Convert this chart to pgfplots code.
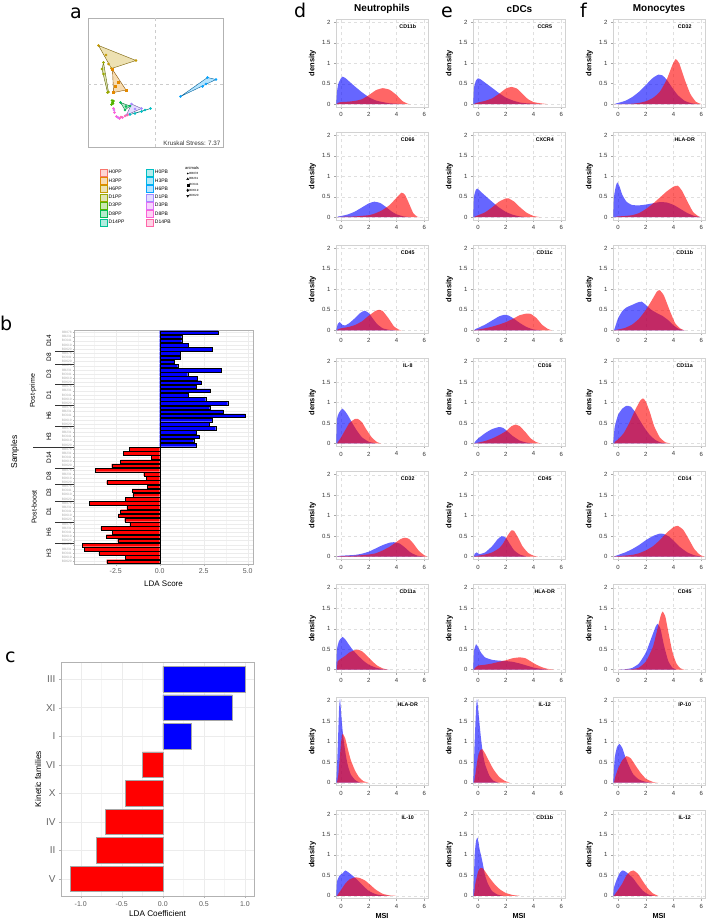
\documentclass[border=0pt]{standalone}
\usepackage{fontspec}
\setmainfont{Liberation Sans}
\newfontfamily\letterfont{DejaVu Sans}
\usepackage{pgfplots}
\pgfplotsset{compat=1.18}

\definecolor{c1}{HTML}{F8766D}
\definecolor{c2}{HTML}{E38900}
\definecolor{c3}{HTML}{C49A00}
\definecolor{c4}{HTML}{99A800}
\definecolor{c5}{HTML}{53B400}
\definecolor{c6}{HTML}{00BC56}
\definecolor{c7}{HTML}{00C094}
\definecolor{c8}{HTML}{00BFC4}
\definecolor{c9}{HTML}{00B6EB}
\definecolor{c10}{HTML}{06A4FF}
\definecolor{c11}{HTML}{A58AFF}
\definecolor{c12}{HTML}{DF70F8}
\definecolor{c13}{HTML}{FB61D7}
\definecolor{c14}{HTML}{FF66A8}

\pgfplotsset{
  dens/.style={
    scale only axis, width=92pt, height=88pt, anchor=north west,
    xmin=-0.37, xmax=6.26, ymin=-0.07, ymax=2.08,
    xtick={0,2,4,6}, ytick={0,0.5,1,1.5,2},
    tick align=outside, xtick pos=bottom, ytick pos=left,
    major tick length=2pt, tick style={gray!70, line width=0.4pt},
    axis line style={gray!35, line width=0.5pt},
    grid=major, grid style={dashed, gray!25, line width=0.3pt},
    tick label style={font=\fontsize{6}{7}\selectfont, text=black!80},
    /pgf/number format/assume math mode=true,
    ylabel={density},
    every axis y label/.style={at={(axis description cs:0,0.5)}, xshift=-16.6pt, rotate=90, anchor=south, font=\bfseries\fontsize{7.5}{8}\selectfont},
    every axis x label/.style={at={(axis description cs:0.5,0)}, yshift=-19.5pt, anchor=base, inner sep=0pt, font=\bfseries\fontsize{7.3}{8}\selectfont},
  },
}

\newcommand{\dens}[6]{%
\begin{axis}[dens, at={(#1pt,#2pt)}, #6]
\addplot[draw=none, fill=blue, fill opacity=0.6, smooth, tension=0.3] coordinates {#4} \closedcycle;
\addplot[draw=none, fill=red, fill opacity=0.6, smooth, tension=0.3] coordinates {#5} \closedcycle;
\node[font=\bfseries\fontsize{5.3}{6}\selectfont] at (axis cs:4.8,1.9) {#3};
\end{axis}}

\begin{document}
\begin{tikzpicture}
\useasboundingbox (0pt,0pt) rectangle (706pt,-919pt);

% ---------- panel letters
\node[anchor=base west, inner sep=0, font=\letterfont\fontsize{19}{20}\selectfont] at (70pt,-18pt) {a};
\node[anchor=base west, inner sep=0, font=\letterfont\fontsize{19}{20}\selectfont] at (0pt,-330pt) {b};
\node[anchor=base west, inner sep=0, font=\letterfont\fontsize{19}{20}\selectfont] at (5pt,-662pt) {c};
\node[anchor=base west, inner sep=0, font=\letterfont\fontsize{19}{20}\selectfont] at (294pt,-17pt) {d};
\node[anchor=base west, inner sep=0, font=\letterfont\fontsize{19}{20}\selectfont] at (441pt,-17pt) {e};
\node[anchor=base west, inner sep=0, font=\letterfont\fontsize{19}{20}\selectfont] at (580pt,-17pt) {f};

% ---------- panel a : MDS
\begin{axis}[at={(88pt,-18pt)}, anchor=north west, scale only axis, width=135pt, height=129pt,
  xmin=-1.34, xmax=1.36, ymin=-1.26, ymax=1.32,
  xtick=\empty, ytick=\empty,
  extra x ticks={0}, extra y ticks={0}, extra x tick labels={}, extra y tick labels={},
  extra tick style={grid=major, major grid style={dashed, gray!40, line width=0.4pt}, major tick length=0pt},
  axis line style={gray!60, line width=0.6pt},
  legend columns=2,
  legend image code/.code={\draw[line width=0.5pt,#1] (0pt,-3.5pt) rectangle (7pt,3.5pt);},
  legend style={at={(axis description cs:0.0889,-0.1667)}, anchor=north west, draw=none, fill=none,
    inner sep=0pt, row sep=0.8pt, font=\fontsize{5}{5.5}\selectfont,
    nodes={inner sep=1pt, text height=3.6pt, text depth=1pt, text width=36.7pt}, cells={anchor=west}},
  clip=false]
\addlegendimage{fill=c1!30, draw=c1}\addlegendentry{H0PP}
\addlegendimage{fill=c8!30, draw=c8}\addlegendentry{H0PB}
\addlegendimage{fill=c2!30, draw=c2}\addlegendentry{H3PP}
\addlegendimage{fill=c9!30, draw=c9}\addlegendentry{H3PB}
\addlegendimage{fill=c3!30, draw=c3}\addlegendentry{H6PP}
\addlegendimage{fill=c10!30, draw=c10}\addlegendentry{H6PB}
\addlegendimage{fill=c4!30, draw=c4}\addlegendentry{D1PP}
\addlegendimage{fill=c11!30, draw=c11}\addlegendentry{D1PB}
\addlegendimage{fill=c5!30, draw=c5}\addlegendentry{D3PP}
\addlegendimage{fill=c12!30, draw=c12}\addlegendentry{D3PB}
\addlegendimage{fill=c6!30, draw=c6}\addlegendentry{D8PP}
\addlegendimage{fill=c13!30, draw=c13}\addlegendentry{D8PB}
\addlegendimage{fill=c7!30, draw=c7}\addlegendentry{D14PP}
\addlegendimage{fill=c14!30, draw=c14}\addlegendentry{D14PB}
% hulls
\addplot[forget plot, fill=c3!30, draw=c3!60!black, line width=0.4pt] coordinates {(-1.13,0.77) (-0.38,0.47) (-0.87,0.31)} -- cycle;
\addplot[forget plot, fill=c2!30, draw=c2!60!black, line width=0.4pt] coordinates {(-0.85,0.29) (-0.58,-0.12) (-0.83,-0.17)} -- cycle;
\addplot[forget plot, fill=c4!30, draw=c4!60!black, line width=0.4pt] coordinates {(-1.03,0.43) (-0.93,-0.16) (-0.95,-0.17) (-1.06,0.30)} -- cycle;
\addplot[forget plot, fill=c10!30, draw=c10!60!black, line width=0.4pt] coordinates {(0.51,-0.25) (1.05,0.13) (1.22,0.09)} -- cycle;
\addplot[forget plot, fill=c6!30, draw=c6!60!black, line width=0.4pt] coordinates {(-0.69,-0.37) (-0.50,-0.44) (-0.60,-0.52)} -- cycle;
\addplot[forget plot, fill=c11!30, draw=c11!60!black, line width=0.4pt] coordinates {(-0.47,-0.40) (-0.27,-0.49) (-0.57,-0.62)} -- cycle;
\addplot[forget plot, fill=c8!30, draw=c8!60!black, line width=0.4pt] coordinates {(-0.09,-0.49) (-0.50,-0.61) (-0.27,-0.55)} -- cycle;
% points
\addplot[forget plot, only marks, mark=*, mark size=1.1pt, c3] coordinates {(-1.13,0.77) (-0.98,0.58) (-0.87,0.31) (-0.38,0.47) (-0.93,0.40)};
\addplot[forget plot, only marks, mark=square*, mark size=1pt, c2] coordinates {(-0.85,0.29) (-0.73,0.03) (-0.58,-0.12) (-0.83,-0.17) (-0.79,-0.05)};
\addplot[forget plot, only marks, mark=*, mark size=1.1pt, c4] coordinates {(-1.03,0.43) (-1.06,0.30) (-1.03,0.20) (-0.95,-0.17) (-0.93,-0.16)};
\addplot[forget plot, only marks, mark=*, mark size=1.1pt, c10] coordinates {(1.05,0.13) (1.22,0.09) (1.02,0.0) (0.95,-0.05) (0.51,-0.25)};
\addplot[forget plot, only marks, mark=*, mark size=1.1pt, c5] coordinates {(-0.83,-0.34) (-0.85,-0.37) (-0.87,-0.41) (-0.84,-0.39) (-0.86,-0.33)};
\addplot[forget plot, only marks, mark=*, mark size=1.1pt, c6] coordinates {(-0.69,-0.37) (-0.50,-0.44) (-0.60,-0.52) (-0.58,-0.45)};
\addplot[forget plot, only marks, mark=*, mark size=1.1pt, c11] coordinates {(-0.47,-0.40) (-0.27,-0.49) (-0.57,-0.62) (-0.40,-0.50)};
\addplot[forget plot, only marks, mark=*, mark size=1.1pt, c8] coordinates {(-0.09,-0.49) (-0.27,-0.55) (-0.40,-0.59) (-0.50,-0.61) (-0.20,-0.52)};
\addplot[forget plot, only marks, mark=*, mark size=1.1pt, c13] coordinates {(-0.83,-0.49) (-0.81,-0.57) (-0.77,-0.65) (-0.71,-0.69) (-0.65,-0.67)};
\addplot[forget plot, only marks, mark=*, mark size=1.1pt, c14] coordinates {(-0.60,-0.64) (-0.55,-0.62) (-0.68,-0.66)};
\addplot[forget plot, only marks, mark=*, mark size=1.1pt, c12] coordinates {(-0.82,-0.52) (-0.74,-0.67)};
\node[anchor=south east, inner sep=1pt, font=\fontsize{6.3}{7}\selectfont, text=black!80] at (axis description cs:0.99,0.0) {Kruskal Stress: 7.37};
\end{axis}

% animals legend
\node[anchor=west, inner sep=0, font=\fontsize{4}{4.5}\selectfont] at (185pt,-168pt) {animals};
\begin{axis}[hide axis, at={(186.5pt,-171.4pt)}, anchor=north west, scale only axis, width=10pt, height=10pt,
  xmin=0, xmax=1, ymin=0, ymax=1,
  legend image code/.code={\draw[#1] plot coordinates {(1.5pt,0pt)};},
  legend style={at={(0,1)}, anchor=north west, draw=none, fill=none, inner sep=0pt, row sep=1.8pt,
    font=\fontsize{3}{3.3}\selectfont, nodes={inner sep=0.5pt, text height=2.2pt, text depth=0.6pt}, cells={anchor=west}}]
\addlegendimage{only marks, mark=*, mark size=0.6pt, black}\addlegendentry{BB078}
\addlegendimage{only marks, mark=triangle*, mark size=1.2pt, black}\addlegendentry{BB231}
\addlegendimage{only marks, mark=square*, mark size=1pt, black}\addlegendentry{BC641}
\addlegendimage{only marks, mark=diamond*, mark size=1.3pt, black}\addlegendentry{BD619}
\addlegendimage{only marks, mark=triangle*, mark size=1.2pt, black, mark options={rotate=180}}\addlegendentry{BD620}
\end{axis}

% ---------- panel b : LDA scores
\begin{axis}[at={(74pt,-330pt)}, anchor=north west, scale only axis, width=179pt, height=234pt,
  xmin=-4.87, xmax=5.3, ymin=0.4, ymax=56.6,
  xtick={-2.5,0,2.5,5}, xticklabels={-2.5,0.0,2.5,5.0}, minor xtick={-3.75,-1.25,1.25,3.75},
  ytick={1,...,56},
  yticklabels={BD620,BD619,BC641,BB231,BB078,BD620,BD619,BC641,BB231,BB078,BD620,BD619,BC641,BB231,BB078,BD620,BD619,BC641,BB078,BD620,BD619,BB231,BB078,BD620,BD619,BC641,BB231,BB078,BD620,BD619,BC641,BB231,BB078,BD620,BD619,BC641,BB231,BB078,BD620,BD619,BC641,BB231,BB078,BD620,BD619,BC641,BB231,BB078,BD620,BC641,BB078,BD620,BD619,BC641,BB231,BB078},
  xmajorgrids, xminorgrids, ymajorgrids,
  major grid style={gray!15, line width=0.4pt}, minor grid style={gray!8, line width=0.3pt},
  axis line style={gray!60, line width=0.6pt},
  tick align=outside, major tick length=1.5pt, minor tick length=0pt, tick style={gray!60, line width=0.3pt},
  xtick pos=bottom, ytick pos=left,
  x tick label style={font=\fontsize{7}{8}\selectfont, text=black!65},
  y tick label style={font=\fontsize{3.2}{3.5}\selectfont, text=gray!70, inner sep=0.6pt},
  xlabel={LDA Score}, xlabel style={font=\fontsize{8}{9}\selectfont},
  clip=false]
\addplot[xbar, bar shift=0pt, bar width=3.6pt, fill=blue, draw=black, line width=0.3pt] coordinates {
(3.31,56) (1.25,55) (1.25,54) (1.63,53) (2.99,52) (1.17,51) (1.14,50) (0.80,49) (1.02,48) (3.48,47)
(1.59,46) (2.12,45) (2.35,44) (2.05,43) (2.88,42) (1.63,41) (2.61,40) (3.86,39) (2.84,38) (3.60,37)
(4.87,36) (2.99,35) (2.80,34) (3.18,33) (2.05,32) (2.23,31) (1.93,30) (2.08,29)};
\addplot[xbar, bar shift=0pt, bar width=3.6pt, fill=red, draw=black, line width=0.3pt] coordinates {
(-1.74,28) (-2.08,27) (-0.47,26) (-2.22,25) (-2.73,24) (-3.66,23) (-0.91,22) (-0.76,21) (-3.01,20) (-0.72,19)
(-1.57,18) (-1.53,17) (-1.97,16) (-4.00,15) (-1.86,14) (-2.22,13) (-2.37,12) (-1.99,11) (-1.70,10) (-3.35,9)
(-2.69,8) (-3.03,7) (-2.39,6) (-4.41,5) (-4.30,4) (-3.45,3) (-1.97,2) (-3.01,1)};
\end{axis}
\foreach \y/\t in {340.8/D14, 357.5/D8, 374.1/D3, 395/D1, 415.8/H6, 436.6/H3, 457.4/D14, 476.2/D8, 492.8/D3, 511.6/D1, 532.4/H6, 553.2/H3}
  \node[rotate=90, inner sep=0, font=\fontsize{6.5}{7}\selectfont] at (49pt,-\y pt) {\t};
\foreach \y in {351.2,363.7,384.5,405.4,426.2,467.8,484.5,501.1,522,542.8}
  \draw[gray!40!black, line width=0.4pt] (55pt,-\y pt) -- (74pt,-\y pt);
\draw[gray!40!black, line width=0.4pt] (33pt,-447pt) -- (74pt,-447pt);
\node[rotate=90, inner sep=0, font=\fontsize{7}{8}\selectfont] at (33pt,-391pt) {Post-prime};
\node[rotate=90, inner sep=0, font=\fontsize{7}{8}\selectfont] at (34pt,-507pt) {Post-boost};
\node[rotate=90, inner sep=0, font=\fontsize{8.5}{9}\selectfont] at (15pt,-452pt) {Samples};

% ---------- panel c : LDA coefficients
\begin{axis}[at={(61pt,-662pt)}, anchor=north west, scale only axis, width=193pt, height=234pt,
  xmin=-1.24, xmax=1.11, ymin=0.4, ymax=8.6,
  ytick={1,...,8}, yticklabels={V,II,IV,X,VI,I,XI,III},
  xtick={-1,-0.5,0,0.5,1}, xticklabels={-1.0,-0.5,0.0,0.5,1.0}, minor xtick={-0.75,-0.25,0.25,0.75},
  xmajorgrids, xminorgrids, ymajorgrids,
  major grid style={gray!15, line width=0.4pt}, minor grid style={gray!8, line width=0.3pt},
  axis line style={gray!60, line width=0.6pt},
  tick align=outside, major tick length=2pt, minor tick length=0pt, tick style={gray!60, line width=0.3pt},
  xtick pos=bottom, ytick pos=left,
  x tick label style={font=\fontsize{7}{8}\selectfont, text=black!65},
  y tick label style={font=\fontsize{10}{11}\selectfont, text=black!60},
  xlabel={LDA Coefficient},
  every axis x label/.style={at={(axis description cs:0.5,0)}, yshift=-20.5pt, anchor=base, inner sep=0pt, font=\fontsize{8.2}{9}\selectfont},
  ylabel={Kinetic families},
  every axis y label/.style={at={(axis description cs:0,0.5)}, xshift=-16.2pt, rotate=90, anchor=south, font=\fontsize{8.4}{9}\selectfont}]
\addplot[xbar, bar shift=0pt, bar width=25.6pt, fill=blue, draw=gray!70, line width=0.6pt] coordinates {(1.0,8) (0.846,7) (0.352,6)};
\addplot[xbar, bar shift=0pt, bar width=25.6pt, fill=red, draw=gray!70, line width=0.6pt] coordinates {(-0.247,5) (-0.46,4) (-0.696,3) (-0.81,2) (-1.13,1)};
\end{axis}

% ---------- column titles
\node[font=\bfseries\fontsize{10}{11}\selectfont] at (382pt,-9pt) {Neutrophils};
\node[font=\bfseries\fontsize{10}{11}\selectfont] at (519.5pt,-9pt) {cDCs};
\node[font=\bfseries\fontsize{10}{11}\selectfont] at (659pt,-9pt) {Monocytes};

% ---------- column d : Neutrophils
\dens{336}{-19}{CD11b}
{(-0.35,0) (-0.3,0.3) (-0.2,0.5) (0,0.64) (0.1,0.67) (0.3,0.64) (0.6,0.55) (1,0.43) (1.5,0.29) (2,0.17) (2.5,0.09) (3,0.05) (3.5,0.02) (4,0.01) (4.5,0)}
{(-0.3,0) (-0.25,0.03) (0,0.05) (0.5,0.06) (1,0.08) (1.5,0.12) (2,0.22) (2.5,0.34) (3,0.39) (3.5,0.35) (4,0.22) (4.4,0.08) (4.8,0.01) (5,0)}{}
\dens{336}{-132.1}{CD66}
{(-0.3,0) (-0.2,0.02) (0,0.03) (0.5,0.07) (1,0.14) (1.5,0.24) (2,0.34) (2.4,0.38) (2.8,0.35) (3.2,0.26) (3.6,0.15) (4,0.07) (4.5,0.02) (5,0)}
{(-0.3,0) (0,0.01) (1,0.02) (2,0.05) (2.5,0.1) (3,0.18) (3.5,0.3) (4,0.48) (4.35,0.6) (4.6,0.55) (4.9,0.33) (5.2,0.1) (5.5,0.01) (5.7,0)}{}
\dens{336}{-245.2}{CD45}
{(-0.35,0) (-0.25,0.15) (-0.1,0.2) (0.1,0.13) (0.3,0.12) (0.6,0.18) (1,0.3) (1.4,0.43) (1.7,0.48) (2,0.42) (2.3,0.28) (2.6,0.15) (3,0.05) (3.5,0.01) (4,0)}
{(-0.3,0) (-0.2,0.03) (0,0.05) (0.5,0.08) (1,0.13) (1.5,0.22) (2,0.36) (2.5,0.48) (2.75,0.5) (3,0.47) (3.4,0.3) (3.8,0.1) (4.2,0.01) (4.4,0)}{}
\dens{336}{-358.3}{IL-8}
{(-0.35,0) (-0.3,0.6) (-0.15,0.75) (0,0.82) (0.1,0.85) (0.3,0.78) (0.5,0.68) (0.8,0.5) (1.1,0.33) (1.5,0.15) (2,0.04) (2.5,0)}
{(-0.3,0) (-0.2,0.05) (0,0.15) (0.3,0.33) (0.6,0.5) (1,0.6) (1.2,0.6) (1.5,0.52) (1.8,0.35) (2.2,0.15) (2.6,0.03) (2.9,0)}{}
\dens{336}{-471.4}{CD32}
{(-0.3,0) (-0.2,0.01) (0,0.02) (1,0.04) (1.5,0.07) (2,0.12) (2.5,0.2) (3,0.28) (3.5,0.34) (3.8,0.35) (4.2,0.32) (4.6,0.22) (5,0.1) (5.5,0.02) (6,0)}
{(-0.3,0) (0,0.01) (1,0.02) (2,0.05) (2.5,0.08) (3,0.15) (3.5,0.24) (4,0.36) (4.3,0.43) (4.6,0.46) (4.9,0.43) (5.2,0.32) (5.6,0.14) (6,0.03) (6.2,0)}{}
\dens{336}{-584.5}{CD11a}
{(-0.35,0) (-0.3,0.5) (-0.15,0.7) (0,0.77) (0.1,0.8) (0.3,0.74) (0.5,0.64) (0.8,0.5) (1.2,0.35) (1.6,0.22) (2,0.12) (2.5,0.05) (3,0.01) (3.5,0)}
{(-0.3,0) (-0.25,0.2) (0,0.27) (0.3,0.34) (0.6,0.42) (1,0.48) (1.2,0.49) (1.5,0.45) (1.8,0.36) (2.2,0.22) (2.6,0.1) (3,0.03) (3.4,0)}{}
\dens{336}{-697.6}{HLA-DR}
{(-0.35,0) (-0.25,0.8) (-0.15,1.8) (-0.08,2.05) (0,1.7) (0.1,1.3) (0.2,1.0) (0.35,0.65) (0.5,0.4) (0.7,0.2) (1,0.07) (1.3,0.01) (1.5,0)}
{(-0.3,0) (-0.2,0.2) (-0.1,0.6) (0,1.0) (0.1,1.2) (0.2,1.15) (0.3,1.08) (0.5,0.8) (0.7,0.55) (1,0.3) (1.3,0.13) (1.6,0.04) (2,0)}{}
\dens{336}{-810.7}{IL-10}
{(-0.35,0) (-0.3,0.35) (-0.1,0.5) (0.1,0.55) (0.3,0.62) (0.5,0.58) (0.8,0.5) (1.2,0.38) (1.6,0.24) (2,0.12) (2.5,0.04) (3,0.01) (3.5,0)}
{(-0.3,0) (-0.2,0.05) (0,0.15) (0.3,0.3) (0.6,0.4) (1,0.45) (1.3,0.44) (1.7,0.38) (2.1,0.27) (2.5,0.15) (3,0.05) (3.5,0.01) (4,0)}{xlabel={MSI}}

% ---------- column e : cDCs
\dens{473}{-19}{CCR5}
{(-0.35,0) (-0.3,0.4) (-0.15,0.58) (0,0.63) (0.2,0.6) (0.6,0.5) (1,0.4) (1.5,0.27) (2,0.16) (2.5,0.09) (3,0.04) (3.5,0.02) (4,0.01) (4.5,0)}
{(-0.3,0) (-0.2,0.02) (0,0.04) (0.5,0.08) (1,0.14) (1.5,0.25) (2,0.38) (2.4,0.42) (2.8,0.38) (3.2,0.25) (3.6,0.12) (4,0.05) (4.5,0.02) (5,0)}{}
\dens{473}{-132.1}{CXCR4}
{(-0.35,0) (-0.3,0.5) (-0.15,0.68) (-0.05,0.7) (0.2,0.62) (0.6,0.5) (1,0.38) (1.5,0.24) (2,0.13) (2.5,0.06) (3,0.02) (3.5,0)}
{(-0.3,0) (-0.2,0.02) (0,0.05) (0.5,0.12) (1,0.24) (1.5,0.38) (2,0.46) (2.2,0.46) (2.6,0.38) (3,0.25) (3.5,0.11) (4,0.03) (4.5,0)}{}
\dens{473}{-245.2}{CD11c}
{(-0.3,0) (-0.2,0.03) (0,0.06) (0.5,0.14) (1,0.24) (1.5,0.34) (1.9,0.38) (2.2,0.36) (2.6,0.28) (3,0.18) (3.5,0.08) (4,0.02) (4.5,0)}
{(-0.3,0) (0,0.02) (0.5,0.05) (1,0.09) (1.5,0.14) (2,0.2) (2.5,0.28) (3,0.37) (3.5,0.41) (3.8,0.4) (4.2,0.3) (4.6,0.14) (5,0.04) (5.3,0)}{}
\dens{473}{-358.3}{CD16}
{(-0.3,0) (-0.2,0.05) (0,0.12) (0.5,0.25) (1,0.35) (1.5,0.4) (1.8,0.38) (2.1,0.3) (2.5,0.18) (3,0.07) (3.5,0.02) (4,0)}
{(-0.3,0) (0,0.02) (0.5,0.06) (1,0.12) (1.5,0.2) (2,0.3) (2.4,0.42) (2.7,0.46) (3,0.42) (3.4,0.28) (3.8,0.12) (4.2,0.03) (4.5,0)}{}
\dens{473}{-471.4}{CD45}
{(-0.3,0) (-0.25,0.07) (-0.1,0.1) (0.1,0.06) (0.5,0.1) (1,0.25) (1.4,0.42) (1.7,0.5) (2,0.46) (2.3,0.3) (2.6,0.15) (3,0.05) (3.5,0)}
{(-0.3,0) (0,0.02) (0.5,0.05) (1,0.1) (1.5,0.2) (1.8,0.32) (2.1,0.5) (2.4,0.64) (2.6,0.62) (2.9,0.45) (3.2,0.25) (3.6,0.09) (4,0.02) (4.3,0)}{}
\dens{473}{-584.5}{HLA-DR}
{(-0.35,0) (-0.3,0.45) (-0.15,0.62) (0,0.55) (0.2,0.42) (0.5,0.3) (1,0.24) (1.5,0.22) (2,0.21) (2.5,0.19) (3,0.15) (3.5,0.1) (4,0.05) (4.5,0.02) (5,0)}
{(-0.3,0) (-0.2,0.05) (0,0.1) (0.5,0.12) (1,0.15) (1.5,0.19) (2,0.23) (2.5,0.28) (3,0.3) (3.4,0.28) (3.8,0.2) (4.2,0.12) (4.6,0.06) (5,0.02) (5.5,0)}{}
\dens{473}{-697.6}{IL-12}
{(-0.35,0) (-0.25,1.0) (-0.15,1.8) (-0.08,2.05) (0,1.8) (0.1,1.45) (0.2,1.1) (0.35,0.7) (0.5,0.45) (0.8,0.18) (1.1,0.05) (1.5,0)}
{(-0.3,0) (-0.2,0.2) (-0.1,0.45) (0,0.65) (0.15,0.8) (0.3,0.82) (0.5,0.72) (0.8,0.52) (1.1,0.33) (1.5,0.15) (1.9,0.05) (2.3,0)}{}
\dens{473}{-810.7}{CD11b}
{(-0.35,0) (-0.25,1.0) (-0.15,1.35) (-0.05,1.42) (0,1.35) (0.1,1.15) (0.2,1.0) (0.3,0.85) (0.5,0.5) (0.7,0.3) (1,0.12) (1.4,0.03) (1.8,0)}
{(-0.3,0) (-0.2,0.3) (0,0.6) (0.15,0.68) (0.3,0.68) (0.5,0.6) (0.8,0.45) (1.2,0.28) (1.6,0.15) (2,0.07) (2.5,0.02) (3,0)}{xlabel={MSI}}

% ---------- column f : Monocytes
\dens{613}{-19}{CD32}
{(-0.3,0) (0,0.03) (0.5,0.08) (1,0.17) (1.5,0.3) (2,0.47) (2.5,0.64) (2.9,0.72) (3.2,0.7) (3.5,0.6) (3.9,0.4) (4.3,0.22) (4.8,0.08) (5.3,0.02) (5.8,0)}
{(-0.3,0) (1,0.01) (1.5,0.03) (2,0.07) (2.5,0.15) (3,0.3) (3.5,0.6) (3.9,0.95) (4.15,1.1) (4.4,1.0) (4.8,0.6) (5.2,0.25) (5.6,0.06) (6,0)}{}
\dens{613}{-132.1}{HLA-DR}
{(-0.35,0) (-0.3,0.5) (-0.15,0.78) (-0.05,0.85) (0.1,0.75) (0.3,0.55) (0.6,0.38) (1,0.3) (1.5,0.29) (2,0.31) (2.5,0.34) (3,0.37) (3.5,0.36) (4,0.3) (4.5,0.2) (5,0.1) (5.5,0.03) (6,0)}
{(-0.3,0) (0,0.02) (0.5,0.03) (1,0.05) (1.5,0.1) (2,0.2) (2.5,0.33) (3,0.48) (3.5,0.63) (4,0.75) (4.3,0.77) (4.6,0.65) (5,0.38) (5.4,0.13) (5.8,0.02) (6,0)}{}
\dens{613}{-245.2}{CD11b}
{(-0.3,0) (-0.2,0.1) (0,0.3) (0.3,0.47) (0.6,0.56) (1,0.62) (1.4,0.68) (1.7,0.7) (2,0.62) (2.4,0.5) (2.8,0.42) (3.2,0.35) (3.6,0.25) (4,0.12) (4.4,0.03) (4.8,0)}
{(-0.3,0) (0,0.02) (0.5,0.06) (1,0.14) (1.5,0.28) (2,0.5) (2.4,0.72) (2.8,0.95) (3,0.98) (3.3,0.85) (3.7,0.5) (4.1,0.18) (4.5,0.04) (4.8,0)}{}
\dens{613}{-358.3}{CD11a}
{(-0.35,0) (-0.25,0.4) (0,0.7) (0.3,0.85) (0.6,0.92) (0.9,0.9) (1.2,0.78) (1.5,0.6) (1.9,0.38) (2.3,0.2) (2.7,0.08) (3.1,0.02) (3.5,0)}
{(-0.3,0) (-0.2,0.05) (0,0.1) (0.4,0.25) (0.8,0.5) (1.2,0.8) (1.6,1.05) (1.8,1.1) (2,1.02) (2.3,0.75) (2.6,0.42) (3,0.15) (3.4,0.03) (3.8,0)}{}
\dens{613}{-471.4}{CD14}
{(-0.3,0) (0,0.04) (0.5,0.1) (1,0.18) (1.5,0.28) (2,0.4) (2.5,0.5) (3,0.56) (3.3,0.55) (3.7,0.48) (4.1,0.35) (4.5,0.22) (5,0.1) (5.5,0.03) (6,0)}
{(-0.3,0) (0,0.01) (1,0.04) (1.5,0.08) (2,0.15) (2.5,0.25) (3,0.4) (3.5,0.58) (4,0.72) (4.3,0.75) (4.7,0.65) (5.1,0.42) (5.5,0.18) (5.9,0.04) (6.2,0)}{}
\dens{613}{-584.5}{CD45}
{(0,0) (0.5,0.01) (1,0.04) (1.5,0.15) (2,0.42) (2.4,0.78) (2.7,1.05) (2.85,1.12) (3.05,1.0) (3.3,0.6) (3.6,0.22) (3.9,0.05) (4.2,0)}
{(0,0) (1,0.01) (1.5,0.05) (2,0.2) (2.5,0.55) (2.8,0.95) (3.05,1.3) (3.2,1.42) (3.4,1.3) (3.6,0.95) (3.9,0.45) (4.2,0.15) (4.5,0.03) (4.8,0)}{}
\dens{613}{-697.6}{IP-10}
{(-0.35,0) (-0.25,0.6) (-0.1,0.85) (0,0.92) (0.1,0.95) (0.3,0.85) (0.5,0.65) (0.8,0.4) (1.1,0.2) (1.5,0.08) (2,0.02) (2.5,0)}
{(-0.3,0) (-0.2,0.15) (0,0.35) (0.3,0.55) (0.6,0.65) (0.9,0.6) (1.2,0.45) (1.6,0.25) (2,0.1) (2.5,0.02) (2.9,0)}{}
\dens{613}{-810.7}{IL-12}
{(-0.35,0) (-0.3,0.2) (-0.1,0.4) (0.1,0.55) (0.3,0.62) (0.5,0.6) (0.8,0.52) (1.1,0.42) (1.4,0.28) (1.8,0.12) (2.2,0.03) (2.6,0)}
{(-0.3,0) (-0.2,0.05) (0,0.15) (0.3,0.3) (0.6,0.5) (0.9,0.6) (1.1,0.62) (1.4,0.55) (1.7,0.4) (2.1,0.2) (2.5,0.06) (2.9,0)}{xlabel={MSI}}

\end{tikzpicture}
\end{document}
